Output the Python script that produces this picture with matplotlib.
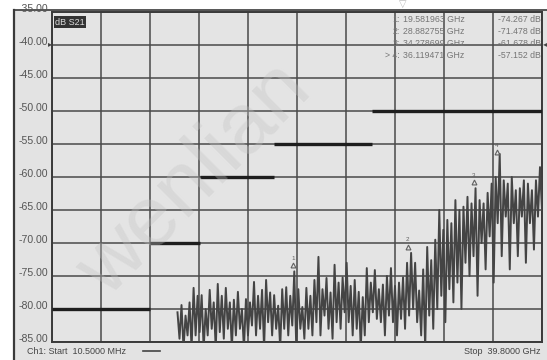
import numpy as np
import matplotlib.pyplot as plt
import matplotlib.transforms as mtransforms
from matplotlib.patches import Rectangle
from matplotlib.lines import Line2D

plt.rcParams['font.family'] = ['Liberation Sans', 'DejaVu Sans']

# sweep (GHz)
f_start = 0.0105
f_stop = 39.8
db_top = -35
db_bottom = -85
y_ticks = [-35, -40, -45, -50, -55, -60, -65, -70, -75, -80, -85]

# limit mask segments
mask_start = [0.0105, 8.0, 12.0, 18.0, 26.0]
mask_stop = [8.0, 12.0, 18.0, 26.0, 39.8]
mask_level = [-80, -70, -60, -55, -50]

# markers
marker_num = ['1', '2', '3', '4']
marker_freq = [19.581963, 28.882755, 34.278699, 36.119471]
marker_db = [-74.267, -71.478, -61.678, -57.152]
marker_rows = ['1:', '2:', '3:', '> 4:']

# trace: peak / dip pairs from 10.2 GHz to 39.8 GHz
trace_peaks = [-80.5, -79.4, -81.0, -79.0, -76.8, -78.0, -77.9, -80.0, -77.1, -79.0,
               -76.2, -78.0, -76.8, -79.0, -78.6, -77.4, -80.0, -78.5, -79.0, -75.9,
               -78.0, -77.1, -75.6, -77.5, -77.9, -79.5, -77.0, -76.7, -78.0, -74.3,
               -77.0, -79.7, -76.8, -78.0, -75.6, -72.1, -77.0, -75.3, -77.5, -73.3,
               -76.0, -75.2, -73.0, -76.5, -75.6, -77.4, -78.2, -73.8, -76.0, -74.1,
               -77.0, -76.3, -75.0, -73.8, -76.5, -76.0, -75.2, -73.0, -71.5, -73.0,
               -77.2, -74.0, -70.6, -72.6, -69.5, -65.0, -68.0, -66.5, -67.0, -63.5,
               -65.0, -64.5, -63.0, -64.0, -61.7, -63.5, -64.0, -62.4, -61.0, -60.0,
               -56.5, -60.5, -61.0, -60.0, -62.0, -61.7, -60.5, -61.0, -62.0, -60.5,
               -58.5]
trace_dips = [-84.5, -86.0, -84.0, -86.0, -84.0, -83.5, -86.0, -84.0, -83.0, -86.0,
              -83.5, -84.5, -83.0, -86.0, -84.0, -83.0, -86.0, -84.0, -82.5, -84.0,
              -83.0, -86.0, -82.0, -84.0, -83.0, -86.0, -83.0, -84.0, -82.5, -86.0,
              -83.0, -84.5, -83.0, -84.0, -82.0, -84.0, -81.0, -83.0, -84.5, -82.0,
              -83.0, -80.5, -82.0, -84.0, -83.0, -86.0, -84.0, -82.0, -80.5, -81.5,
              -82.0, -84.0, -81.0, -82.0, -84.0, -81.5, -83.0, -81.0, -80.0, -82.0,
              -84.0, -86.0, -81.0, -83.0, -80.0, -78.0, -82.0, -77.0, -79.0, -76.0,
              -80.0, -73.0, -75.0, -72.0, -78.0, -70.0, -74.0, -69.0, -76.0, -67.0,
              -72.0, -66.0, -74.0, -67.0, -72.0, -66.0, -73.0, -67.0, -71.0, -66.0,
              -65.0]

trace_db = np.column_stack([trace_peaks, trace_dips]).ravel()
trace_f = np.linspace(10.2, f_stop, len(trace_db))

W, H = 547, 360
fig = plt.figure(figsize=(W / 100, H / 100), dpi=100)
fig.patch.set_facecolor('white')


def fx(px):
    return px / W


def fy(py):
    return 1 - py / H


# instrument panel background and frame
fig.patches.append(Rectangle((fx(14), 0), fx(533), fy(10), transform=fig.transFigure,
                             facecolor='#e3e3e3', edgecolor='none', zorder=-5))
fig.lines.append(Line2D([fx(14), fx(14)], [0, fy(10)], transform=fig.transFigure,
                        color='#3a3a3a', lw=1.6, zorder=-4))
fig.lines.append(Line2D([fx(14), 1], [fy(10), fy(10)], transform=fig.transFigure,
                        color='#3a3a3a', lw=1.2, zorder=-4))

ax = fig.add_axes([fx(52), fy(342), fx(490), 330 / H])
ax.set_facecolor('#e4e4e4')
ax.set_xlim(f_start, f_stop)
ax.set_ylim(db_bottom, db_top)

div = (f_stop - f_start) / 10
ax.set_xticks([f_start + i * div for i in range(11)])
ax.set_xticklabels([])
ax.set_yticks(y_ticks)
ax.set_yticklabels([])
ax.tick_params(axis='both', length=0)
ax.grid(True, color='#4a4a4a', lw=1.1)
ax.set_axisbelow(True)
for s in ax.spines.values():
    s.set_color('#3a3a3a')
    s.set_linewidth(1.4)

# scale labels sit a little above their gridlines
lab_tr = mtransforms.offset_copy(ax.get_yaxis_transform(), fig=fig, x=-4, y=3, units='dots')
for v in y_ticks:
    ax.text(0, v, '%.2f' % v, transform=lab_tr, fontsize=7.6, color='#555555',
            ha='right', va='center', clip_on=False)

# measured trace
ax.plot(trace_f, trace_db, color='#444444', lw=1.4, zorder=3)

# limit mask
for a, b, lvl in zip(mask_start, mask_stop, mask_level):
    ax.plot([a, b], [lvl, lvl], color='#1e1e1e', lw=2.4, solid_capstyle='butt', zorder=4)

# markers on the trace
for n, f, d in zip(marker_num, marker_freq, marker_db):
    ax.plot(f, d + 0.9, marker='^', ms=3.5, color='#606060', mfc='none', mew=0.8, zorder=5)
    ax.text(f, d + 1.6, n, fontsize=4.5, color='#606060', ha='center', va='bottom', zorder=5)

# marker readout
for i, (r, f, d) in enumerate(zip(marker_rows, marker_freq, marker_db)):
    yy = fy(19 + 12 * i)
    fig.text(fx(400), yy, r, fontsize=6.3, color='#757575', ha='right', va='center')
    fig.text(fx(403), yy, '%.6f GHz' % f, fontsize=6.3, color='#757575', va='center')
    fig.text(fx(541), yy, '%.3f dB' % d, fontsize=6.3, color='#757575', ha='right', va='center')

# trace title box
ax.text(0.007, 0.983, 'dB S21', transform=ax.transAxes, fontsize=6.5, color='#dddddd',
        ha='left', va='top', zorder=6,
        bbox=dict(boxstyle='square,pad=0.15', facecolor='#333333', edgecolor='none'))

# reference level arrows
fig.text(fx(50), fy(45), '\u25b8', fontsize=6, color='#444444', ha='center', va='center')
fig.text(fx(545), fy(45), '\u25c2', fontsize=6, color='#444444', ha='center', va='center')
fig.text(fx(403), fy(4), '\u25bd', fontsize=7, color='#bbbbbb', ha='center', va='center')

# footer
fig.text(fx(27), fy(351), 'Ch1: Start  10.5000 MHz', fontsize=6.5, color='#444444', va='center')
fig.lines.append(Line2D([fx(143), fx(160)], [fy(351), fy(351)], transform=fig.transFigure,
                        color='#444444', lw=1.2))
fig.text(fx(540), fy(351), 'Stop  39.8000 GHz', fontsize=6.5, color='#444444', ha='right', va='center')

# watermark
fig.text(fx(195), fy(180), 'wenlian', fontsize=62, color='#c4c4c4', alpha=0.35,
         rotation=45, ha='center', va='center', zorder=10)

fig.savefig('out.png', dpi=100)
